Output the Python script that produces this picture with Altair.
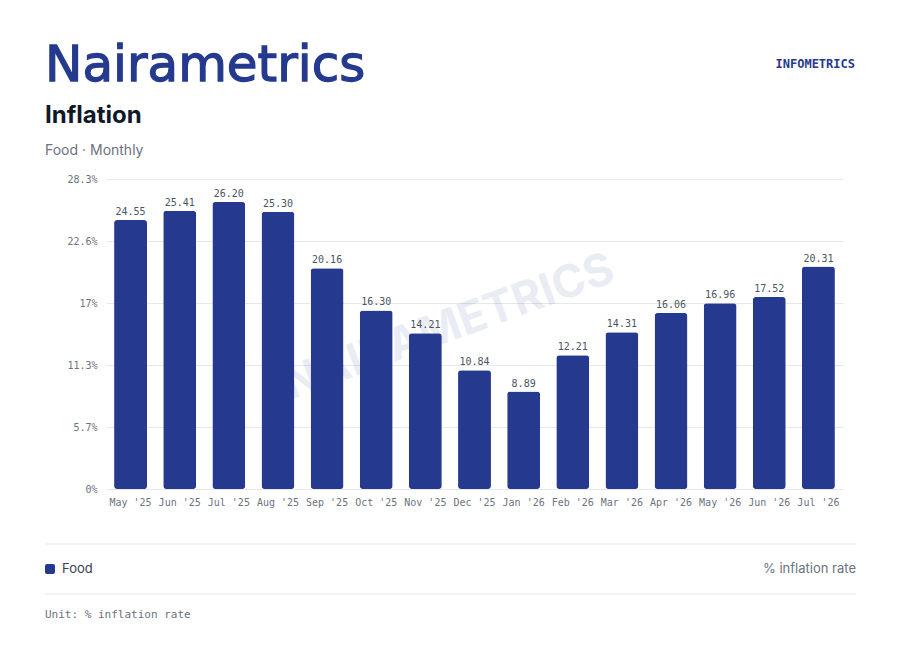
import altair as alt
import pandas as pd

months = ["May '25", "Jun '25", "Jul '25", "Aug '25", "Sep '25", "Oct '25", "Nov '25",
          "Dec '25", "Jan '26", "Feb '26", "Mar '26", "Apr '26", "May '26", "Jun '26", "Jul '26"]
food = [24.55, 25.41, 26.20, 25.30, 20.16, 16.30, 14.21, 10.84, 8.89, 12.21, 14.31, 16.06, 16.96, 17.52, 20.31]
y_ticks = [0, 5.66, 11.32, 16.98, 22.64, 28.3]

BLUE = "#253a8e"
MONO = "DejaVu Sans Mono"
SANS = "Inter"

df = pd.DataFrame({"month": months, "value": food})

xenc = alt.X("month:N", sort=months, title=None,
             scale=alt.Scale(paddingInner=0.33, paddingOuter=0.165),
             axis=alt.Axis(labelAngle=0, labelFont=MONO, labelFontSize=10, labelColor="#6b7280",
                           domain=False, ticks=False, labelPadding=8))
yenc = alt.Y("value:Q", title=None,
             scale=alt.Scale(domain=[0, 28.3], nice=False, zero=True),
             axis=alt.Axis(values=y_ticks, labelExpr="round(datum.value*10)/10 + '%'",
                           labelFont=MONO, labelFontSize=10, labelColor="#6b7280",
                           domain=False, ticks=False, labelPadding=9,
                           gridColor="#e8e8e8", gridWidth=1))

def one(text):
    return alt.Chart(pd.DataFrame({"t": [text]}))

watermark = one("NAIRAMETRICS").mark_text(
    font=SANS, fontWeight="bold", fontSize=45, color=BLUE, opacity=0.09,
    angle=340, align="center", baseline="middle"
).encode(text="t:N", x=alt.value(343), y=alt.value(148))

bars = alt.Chart(df).mark_bar(color=BLUE, cornerRadius=3).encode(x=xenc, y=yenc)
labels = alt.Chart(df).mark_text(
    font=MONO, fontSize=10, color="#4b5563", baseline="bottom", dy=-3
).encode(x=alt.X("month:N", sort=months), y="value:Q", text=alt.Text("value:Q", format=".2f"))

logo = one("Nairametrics").mark_text(
    font="DejaVu Sans", fontSize=50, color=BLUE, stroke=BLUE, strokeWidth=1.3,
    align="left", baseline="alphabetic"
).encode(text="t:N", x=alt.value(-61), y=alt.value(-98))
brand = one("INFOMETRICS").mark_text(
    font=MONO, fontSize=12, fontWeight="bold", color=BLUE, align="right", baseline="middle"
).encode(text="t:N", x=alt.value(749), y=alt.value(-115))
title = one("Inflation").mark_text(
    font=SANS, fontSize=24, fontWeight="bold", color="#111827", align="left", baseline="alphabetic"
).encode(text="t:N", x=alt.value(-61), y=alt.value(-56))
subtitle = one("Food · Monthly").mark_text(
    font=SANS, fontSize=14, color="#6b7280", align="left", baseline="alphabetic"
).encode(text="t:N", x=alt.value(-61), y=alt.value(-24))

sep1 = one("a").mark_rule(color="#e5e7eb", strokeWidth=1).encode(
    x=alt.value(-61), x2=alt.value(750), y=alt.value(365))
sep2 = one("a").mark_rule(color="#e5e7eb", strokeWidth=1).encode(
    x=alt.value(-61), x2=alt.value(750), y=alt.value(415))
swatch = one("a").mark_rect(color=BLUE, cornerRadius=2).encode(
    x=alt.value(-61), x2=alt.value(-51), y=alt.value(385), y2=alt.value(395))
legend_lbl = one("Food").mark_text(
    font=SANS, fontSize=13, color="#374151", align="left", baseline="middle"
).encode(text="t:N", x=alt.value(-44), y=alt.value(390))
unit_right = one("% inflation rate").mark_text(
    font=SANS, fontSize=13, color="#6b7280", align="right", baseline="middle"
).encode(text="t:N", x=alt.value(750), y=alt.value(390))
unit_note = one("Unit: % inflation rate").mark_text(
    font=MONO, fontSize=11, color="#6b7280", align="left", baseline="middle"
).encode(text="t:N", x=alt.value(-61), y=alt.value(436))

chart = alt.layer(
    watermark, bars, labels, logo, brand, title, subtitle,
    sep1, sep2, swatch, legend_lbl, unit_right, unit_note
).properties(
    width=737, height=310,
    autosize=alt.AutoSizeParams(type="none"),
    padding={"left": 98, "top": 171, "right": 50, "bottom": 160},
    background="white"
).configure_view(stroke=None)

chart.save("out.html", embed_options={"renderer": "svg", "actions": False})
